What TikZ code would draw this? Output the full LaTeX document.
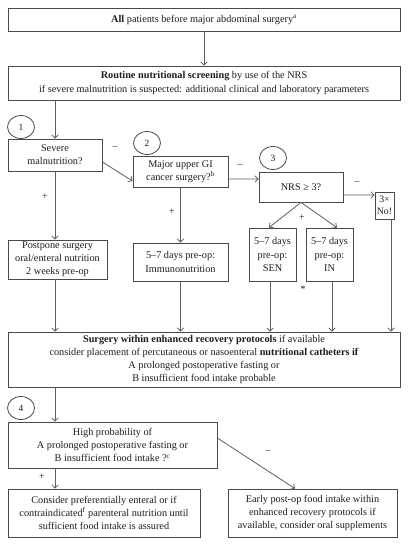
\documentclass[tikz,border=0pt]{standalone}
\usepackage{fontspec}
\setmainfont{Liberation Serif}
\usetikzlibrary{arrows.meta,shapes.geometric,calc}
\definecolor{edge}{HTML}{4A4A4A}
\definecolor{wire}{HTML}{5E5E5E}
\definecolor{ink}{HTML}{1E1E1E}
\tikzset{
  box/.style={draw=edge,line width=0.8bp,rectangle,inner sep=0pt,align=center,text=ink,
    font=\fontsize{10.3}{13.2}\selectfont},
  num/.style={draw=edge,line width=0.8bp,ellipse,fill=white,inner sep=0pt,minimum width=27bp,minimum height=23bp,
    text=ink,font=\fontsize{9.5}{11}\selectfont},
  arr/.style={draw=wire,line width=0.8bp,-{Straight Barb[length=3.2bp,width=6.5bp]}},
  lbl/.style={text=ink,font=\fontsize{10}{11}\selectfont,inner sep=0pt}
}
\begin{document}
\begin{tikzpicture}[x=1bp,y=-1bp]
\useasboundingbox[fill=white] (0,0) rectangle (410,545);
% boxes
\node[box,minimum width=392bp,minimum height=23bp] (A) at (204,19.5) {\textbf{All} patients before major abdominal surgery\textsuperscript{a}};
\node[box,minimum width=392bp,minimum height=34bp] (B) at (204,83) {\textbf{Routine nutritional screening} by use of the NRS\\ if severe malnutrition is suspected: additional clinical and laboratory parameters};
\node[box,minimum width=94bp,minimum height=32bp] (Sev) at (55,155) {Severe\\ malnutrition?};
\node[box,minimum width=95bp,minimum height=31bp] (Major) at (180.5,171.5) {Major upper GI\\ cancer surgery?\textsuperscript{b}};
\node[box,minimum width=84bp,minimum height=30bp] (NRS) at (301,187) {NRS ≥ 3?};
\node[box,minimum width=19bp,minimum height=27bp,font=\fontsize{9.8}{12.5}\selectfont] (No) at (384.5,205.5) {3×\\ No!};
\node[box,minimum width=99bp,minimum height=39bp] (Post) at (57.5,259.5) {Postpone surgery\\ oral/enteral nutrition\\ 2 weeks pre-op};
\node[box,minimum width=95bp,minimum height=38bp] (Imm) at (180.5,262) {5–7 days pre-op:\\ Immunonutrition};
\node[box,minimum width=47bp,minimum height=53bp] (SEN) at (272.5,254.5) {5–7 days\\ pre-op:\\ SEN};
\node[box,minimum width=47bp,minimum height=53bp] (IN) at (329.5,254.5) {5–7 days\\ pre-op:\\ IN};
\node[box,minimum width=392bp,minimum height=55bp] (Surg) at (204,359.5) {\textbf{Surgery within enhanced recovery protocols} if available\\ consider placement of percutaneous or nasoenteral \textbf{nutritional catheters if}\\ A prolonged postoperative fasting or\\ B insufficient food intake probable};
\node[box,minimum width=209bp,minimum height=46bp] (High) at (112.5,445) {High probability of\\ A prolonged postoperative fasting or\\ B insufficient food intake ?\textsuperscript{c}};
\node[box,minimum width=192bp,minimum height=48bp] (BL) at (104,513) {Consider preferentially enteral or if\\ contraindicated\textsuperscript{f} parenteral nutrition until\\ sufficient food intake is assured};
\node[box,minimum width=169bp,minimum height=48bp] (BR) at (312.5,513) {Early post-op food intake within\\ enhanced recovery protocols if\\ available, consider oral supplements};
% numbered circles
\node[num] (c1) at (21,127) {1};
\node[num] (c2) at (147,143) {2};
\node[num] (c3) at (273,158) {3};
\node[num] (c4) at (21,408) {4};
% connectors
\draw[arr] (A.south) -- (B.north);
\draw[arr] (Sev.north |- B.south) -- (Sev.north);
\draw[arr] ([yshift=-7bp]Sev.east) -- ([yshift=-9.5bp]Major.west);
\draw[arr] ([yshift=-7.5bp]Major.east) -- ([yshift=8bp]NRS.west);
\draw[arr] ([yshift=-8bp]NRS.east) -- ([yshift=10.5bp]No.west);
\draw[arr] (Sev.south) -- (Sev.south |- Post.north);
\draw[arr] (Major.south) -- (Imm.north);
\draw[arr] (NRS.south) -- ([xshift=-3.5bp]SEN.north);
\draw[arr] (NRS.south) -- ([xshift=7.5bp]IN.north);
\draw[arr] (Sev.south |- Post.south) -- (Sev.south |- Surg.north);
\draw[arr] (Imm.south) -- (Imm.south |- Surg.north);
\draw[arr] ([xshift=-2.5bp]SEN.south) -- ([xshift=-2.5bp]SEN.south |- Surg.north);
\draw[arr] ([xshift=2.5bp]IN.south) -- ([xshift=2.5bp]IN.south |- Surg.north);
\draw[arr] ([xshift=-3.5bp]No.south east) -- ([xshift=-3.5bp]No.south east |- Surg.north);
\draw[arr] (Sev.south |- Surg.south) -- (Sev.south |- High.north);
\draw[arr] (Sev.south |- High.south) -- (Sev.south |- BL.north);
\draw[arr] ([yshift=7bp]High.east) -- ([xshift=-17.5bp]BR.north);
% labels
\node[lbl] (m1) at (115,148) {–};
\node[lbl] (m2) at (240,166) {–};
\node[lbl] (m3) at (357,183) {–};
\node[lbl] (p1) at (45,197) {+};
\node[lbl] (p2) at (172,212) {+};
\node[lbl] (p3) at (302,218) {+};
\node[lbl] (st) at (303,289) {*};
\node[lbl] (p4) at (42,477) {+};
\node[lbl] (m4) at (268,452) {–};
\end{tikzpicture}
\end{document}
